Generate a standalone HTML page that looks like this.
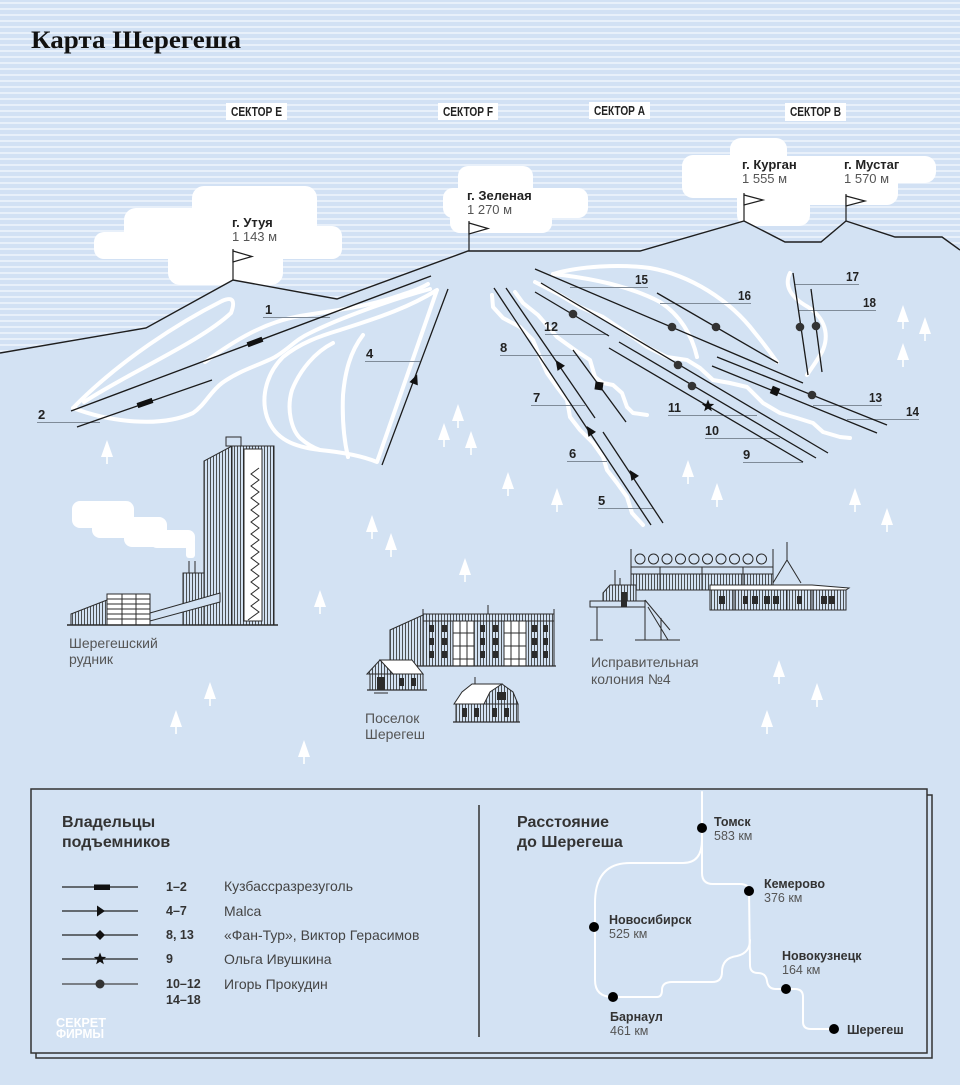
<!DOCTYPE html>
<html><head><meta charset="utf-8"><title>Карта Шерегеша</title>
<style>
html,body{margin:0;padding:0;background:#d3e2f3;}
svg{display:block;}
text{font-family:"Liberation Sans","DejaVu Sans",sans-serif;}
.n{font-size:13px;font-weight:bold;fill:#222;}
.ld{stroke:#7f8b98;stroke-width:1;}
.lift{stroke:#1a1a1a;stroke-width:1.3;fill:none;}
.tr{fill:none;stroke:#fff;stroke-width:4;stroke-linecap:round;stroke-linejoin:round;}
.bk{stroke:#2b2b2b;stroke-width:1;}
.g{fill:#555;}
</style></head>
<body>
<svg width="960" height="1085" viewBox="0 0 960 1085" xmlns="http://www.w3.org/2000/svg">
<defs>
<pattern id="s" width="10" height="6" patternUnits="userSpaceOnUse"><rect width="10" height="6" fill="#d2e1f4"/><rect y="2" width="10" height="2" fill="#e8f0fa"/></pattern>
<pattern id="h" width="3" height="4" patternUnits="userSpaceOnUse"><rect width="3" height="4" fill="#d3e2f3"/><rect width="0.8" height="4" fill="#2b2b2b"/></pattern>
<symbol id="t" viewBox="-7 0 14 25" width="14" height="25" overflow="visible"><polygon points="0,0 -6,17 6,17" fill="#fff"/><rect x="-0.8" y="16" width="1.6" height="8" fill="#fff"/></symbol>
</defs>

<!-- sky -->
<rect width="960" height="1085" fill="url(#s)"/>

<!-- clouds -->
<g fill="#fff">
<rect x="192" y="186" width="125" height="54" rx="12"/>
<rect x="124" y="208" width="176" height="51" rx="12"/>
<rect x="200" y="226" width="142" height="33" rx="10"/>
<rect x="94" y="232" width="86" height="27" rx="10"/>
<rect x="168" y="238" width="115" height="47" rx="12"/>

<rect x="458" y="166" width="75" height="67" rx="10"/>
<rect x="443" y="188" width="145" height="30" rx="10"/>
<rect x="450" y="195" width="102" height="38" rx="10"/>

<rect x="682" y="155" width="108" height="43" rx="11"/>
<rect x="730" y="138" width="57" height="40" rx="11"/>
<rect x="737" y="165" width="73" height="61" rx="11"/>
<rect x="682" y="156" width="254" height="27" rx="11"/>
<rect x="790" y="160" width="108" height="45" rx="11"/>
</g>

<!-- title -->
<text x="31" y="48" font-weight="bold" font-size="25" fill="#111" textLength="210" lengthAdjust="spacingAndGlyphs" style="font-family:'Liberation Serif',serif">Карта Шерегеша</text>

<!-- sector labels -->
<g>
<rect x="226" y="103" width="61" height="17" fill="#fff"/>
<rect x="438" y="103" width="60" height="17" fill="#fff"/>
<rect x="589" y="102" width="61" height="17" fill="#fff"/>
<rect x="785" y="103" width="61" height="18" fill="#fff"/>
<text x="231" y="116" font-size="13" font-weight="bold" fill="#222" textLength="51" lengthAdjust="spacingAndGlyphs">СЕКТОР E</text>
<text x="443" y="116" font-size="13" font-weight="bold" fill="#222" textLength="50" lengthAdjust="spacingAndGlyphs">СЕКТОР F</text>
<text x="594" y="115" font-size="13" font-weight="bold" fill="#222" textLength="51" lengthAdjust="spacingAndGlyphs">СЕКТОР A</text>
<text x="790" y="116" font-size="13" font-weight="bold" fill="#222" textLength="51" lengthAdjust="spacingAndGlyphs">СЕКТОР B</text>
</g>

<!-- peak labels -->
<g font-size="13">
<text x="232" y="227" font-weight="bold" fill="#222">г. Утуя</text>
<text x="232" y="241" class="g">1 143 м</text>
<text x="467" y="200" font-weight="bold" fill="#222">г. Зеленая</text>
<text x="467" y="214" class="g">1 270 м</text>
<text x="742" y="169" font-weight="bold" fill="#222">г. Курган</text>
<text x="742" y="183" class="g">1 555 м</text>
<text x="844" y="169" font-weight="bold" fill="#222">г. Мустаг</text>
<text x="844" y="183" class="g">1 570 м</text>
</g>

<!-- ground -->
<polygon points="0,353 146,328 233,280 337,299 468,251 640,251 744,221 785,242 821,242 846,221 895,237 942,237 960,250 960,1085 0,1085" fill="#d3e2f3"/>
<polyline points="0,353 146,328 233,280 337,299 468,251 640,251 744,221 785,242 821,242 846,221 895,237 942,237 960,250" fill="none" stroke="#1e1e1e" stroke-width="1.4"/>

<!-- flags -->
<g stroke="#1e1e1e" stroke-width="1.2" fill="#fff">
<line x1="233" y1="249" x2="233" y2="280"/><polygon points="233,251 252,256.5 233,262"/>
<line x1="469" y1="221" x2="469" y2="251"/><polygon points="469,223 488,228.5 469,234"/>
<line x1="744" y1="193" x2="744" y2="221"/><polygon points="744,195 763,200 744,205"/>
<line x1="846" y1="194" x2="846" y2="221"/><polygon points="846,196 865,201 846,206"/>
</g>

<!-- trails left -->
<g class="tr">
<path d="M73,408 C120,360 180,322 222,301 Q238,294 231,313 C200,342 130,372 84,402"/>
<path d="M73,408 C110,422 160,428 193,413 C205,405 210,392 222,383 C240,370 260,365 275,357 C290,348 295,340 310,333 C340,318 390,300 430,289"/>
<path d="M205,362 C235,340 265,322 300,316 C330,311 360,308 392,298 C410,292 420,289 428,284"/>
<path d="M437,290 L377,462 C360,455 340,452 320,450 C295,447 275,440 267,417 C260,395 268,372 283,357 C300,343 320,336 340,330 C370,320 405,310 437,290"/>
<path d="M363,335 C350,352 345,372 343,395 C342,420 344,440 348,457"/>
<path d="M333,343 C315,352 300,370 292,390 C286,410 292,430 300,438 C308,445 314,448 320,450"/>
</g>

<!-- trails center -->
<g class="tr">
<polyline points="492,295 493,307 503,318 520,327 533,340 540,357 547,373 557,387 567,400 570,417 580,430 593,443 603,457 607,470 617,483 627,497 632,513 643,525"/>
<polyline points="515,292 523,303 538,315 557,337 575,350 590,360 595,377 603,383 613,385 622,393 627,407 633,413 647,415"/>
<polyline points="535,282 560,295 580,307 603,317 627,333 647,347 667,357 687,360 700,368 713,380 730,383 747,387 763,403 780,413 797,418 813,423 823,432 840,437 850,438"/>
<path d="M553,274 C580,266 620,264 650,268 C690,275 730,300 755,333 C765,345 772,355 777,362"/>
<path d="M553,274 C590,278 630,286 660,302 C680,315 692,335 697,357"/>
<path d="M790,273 C784,285 790,297 808,307 C825,318 830,335 822,352 C815,364 810,370 807,375"/>
</g>

<!-- leaders -->
<g class="ld">
<line x1="263" y1="317.5" x2="330" y2="317.5"/>
<line x1="37" y1="422.5" x2="100" y2="422.5"/>
<line x1="365" y1="361.5" x2="420" y2="361.5"/>
<line x1="500" y1="355.5" x2="577" y2="355.5"/>
<line x1="531" y1="405.5" x2="585" y2="405.5"/>
<line x1="567" y1="461.5" x2="607" y2="461.5"/>
<line x1="598" y1="508.5" x2="653" y2="508.5"/>
<line x1="545" y1="334.5" x2="608" y2="334.5"/>
<line x1="668" y1="415.5" x2="757" y2="415.5"/>
<line x1="705" y1="438.5" x2="780" y2="438.5"/>
<line x1="743" y1="462.5" x2="803" y2="462.5"/>
<line x1="570" y1="287.5" x2="648" y2="287.5"/>
<line x1="660" y1="303.5" x2="751" y2="303.5"/>
<line x1="795" y1="284.5" x2="859" y2="284.5"/>
<line x1="798" y1="310.5" x2="876" y2="310.5"/>
<line x1="813" y1="405.5" x2="882" y2="405.5"/>
<line x1="847" y1="419.5" x2="919" y2="419.5"/>
</g>

<!-- lifts -->
<g class="lift">
<line x1="71" y1="411" x2="431" y2="276"/>
<line x1="77" y1="427" x2="212" y2="380"/>
<line x1="382" y1="465" x2="448" y2="289"/>
<line x1="494" y1="288" x2="651" y2="525"/>
<line x1="506" y1="288" x2="595" y2="418"/>
<line x1="573" y1="350" x2="626" y2="422"/>
<line x1="603" y1="432" x2="663" y2="523"/>
<line x1="535" y1="292" x2="609" y2="336"/>
<line x1="535" y1="269" x2="803" y2="383"/>
<line x1="657" y1="293" x2="778" y2="363"/>
<line x1="541" y1="283" x2="828" y2="453"/>
<line x1="619" y1="342" x2="816" y2="458"/>
<line x1="609" y1="348" x2="803" y2="462"/>
<line x1="712" y1="366" x2="877" y2="433"/>
<line x1="717" y1="357" x2="887" y2="425"/>
<line x1="793" y1="273" x2="808" y2="375"/>
<line x1="811" y1="289" x2="822" y2="372"/>
</g>

<!-- lift markers -->
<g fill="#111">
<rect x="-8" y="-2.6" width="16" height="5.2" transform="translate(255,342) rotate(-20.6)"/>
<rect x="-8" y="-2.6" width="16" height="5.2" transform="translate(145,403) rotate(-19.2)"/>
<polygon points="0,-6 4.5,4 -4.5,4" transform="translate(415,380) rotate(20.6)"/>
<polygon points="0,-6 4.5,4 -4.5,4" transform="translate(590,431) rotate(-33.5)"/>
<polygon points="0,-6 4.5,4 -4.5,4" transform="translate(559,365) rotate(-34.4)"/>
<polygon points="0,-6 4.5,4 -4.5,4" transform="translate(633,475) rotate(-33.4)"/>
<rect x="-4" y="-4" width="8" height="8" transform="translate(599,386) rotate(8)"/>
<rect x="-4" y="-4" width="8" height="8" transform="translate(775,391) rotate(23)"/>
<path transform="translate(708,406)" d="M0,-6.5 L1.65,-2.27 L6.18,-2.01 L2.66,0.87 L3.82,5.26 L0,2.8 L-3.82,5.26 L-2.66,0.87 L-6.18,-2.01 L-1.65,-2.27 Z"/>
</g>
<g fill="#333">
<circle cx="573" cy="314" r="4.3"/>
<circle cx="672" cy="327" r="4.3"/>
<circle cx="716" cy="327" r="4.3"/>
<circle cx="678" cy="365" r="4.3"/>
<circle cx="692" cy="386" r="4.3"/>
<circle cx="812" cy="395" r="4.3"/>
<circle cx="800" cy="327" r="4.3"/>
<circle cx="816" cy="326" r="4.3"/>
</g>

<!-- lift numbers -->
<g class="n">
<text x="265" y="314">1</text>
<text x="38" y="419">2</text>
<text x="366" y="358">4</text>
<text x="500" y="352">8</text>
<text x="533" y="402">7</text>
<text x="569" y="458">6</text>
<text x="598" y="505">5</text>
<text x="544" y="331" textLength="14" lengthAdjust="spacingAndGlyphs">12</text>
<text x="668" y="412" textLength="13" lengthAdjust="spacingAndGlyphs">11</text>
<text x="705" y="435" textLength="14" lengthAdjust="spacingAndGlyphs">10</text>
<text x="743" y="459">9</text>
<text x="635" y="284" textLength="13" lengthAdjust="spacingAndGlyphs">15</text>
<text x="738" y="300" textLength="13" lengthAdjust="spacingAndGlyphs">16</text>
<text x="846" y="281" textLength="13" lengthAdjust="spacingAndGlyphs">17</text>
<text x="863" y="307" textLength="13" lengthAdjust="spacingAndGlyphs">18</text>
<text x="869" y="402" textLength="13" lengthAdjust="spacingAndGlyphs">13</text>
<text x="906" y="416" textLength="13" lengthAdjust="spacingAndGlyphs">14</text>
</g>

<!-- trees -->
<g>
<use href="#t" x="100" y="440"/>
<use href="#t" x="451" y="404"/>
<use href="#t" x="437" y="423"/>
<use href="#t" x="464" y="431"/>
<use href="#t" x="501" y="472"/>
<use href="#t" x="550" y="488"/>
<use href="#t" x="365" y="515"/>
<use href="#t" x="384" y="533"/>
<use href="#t" x="458" y="558"/>
<use href="#t" x="313" y="590"/>
<use href="#t" x="896" y="305"/>
<use href="#t" x="918" y="317"/>
<use href="#t" x="896" y="343"/>
<use href="#t" x="681" y="460"/>
<use href="#t" x="710" y="483"/>
<use href="#t" x="848" y="488"/>
<use href="#t" x="880" y="508"/>
<use href="#t" x="203" y="682"/>
<use href="#t" x="169" y="710"/>
<use href="#t" x="297" y="740"/>
<use href="#t" x="772" y="660"/>
<use href="#t" x="810" y="683"/>
<use href="#t" x="760" y="710"/>
</g>

<!-- MINE -->
<g fill="#fff">
<rect x="72" y="501" width="62" height="27" rx="8"/>
<rect x="92" y="512" width="42" height="26" rx="8"/>
<rect x="124" y="517" width="43" height="30" rx="8"/>
<rect x="150" y="530" width="45" height="18" rx="7"/>
<rect x="186" y="540" width="9" height="18" rx="3"/>
</g>
<g class="bk">
<polygon points="204,625 204,461 232,446 274,446 274,625" fill="url(#h)"/>
<rect x="244" y="449" width="18" height="172" fill="#fff"/>
<line x1="232" y1="446" x2="232" y2="625"/>
<rect x="226" y="437" width="15" height="9" fill="#d3e2f3"/>
<polyline fill="none" points="259,468 251,474 259,480 251,486 259,492 251,498 259,504 251,510 259,516 251,522 259,528 251,534 259,540 251,546 259,552 251,558 259,564 251,570 259,576 251,582 259,588 251,594 259,600 251,606 259,612 248,620"/>
<rect x="183" y="573" width="21" height="52" fill="url(#h)"/>
<line x1="189" y1="561" x2="189" y2="573"/><line x1="195" y1="561" x2="195" y2="573"/>
<polygon points="150,613 220,593 220,602 150,621" fill="#d3e2f3"/>
<polygon points="71,625 71,614 107,600 107,625" fill="url(#h)"/>
<rect x="107" y="594" width="43" height="31" fill="#fff"/>
<line x1="107" y1="599" x2="150" y2="599"/><line x1="107" y1="604" x2="150" y2="604"/>
<line x1="107" y1="609" x2="150" y2="609"/><line x1="107" y1="614" x2="150" y2="614"/>
<line x1="107" y1="619" x2="150" y2="619"/>
<line x1="122" y1="594" x2="122" y2="625"/><line x1="136" y1="594" x2="136" y2="625"/>
<line x1="67" y1="625" x2="278" y2="625" stroke-width="1.5"/>
</g>
<text x="69" y="648" font-size="14" class="g">Шерегешский</text>
<text x="69" y="664" font-size="14" class="g">рудник</text>

<!-- VILLAGE -->
<g class="bk">
<polygon points="390,666 390,630 423,615 423,666" fill="url(#h)"/>
<rect x="423" y="614" width="131" height="52" fill="url(#h)"/>
<line x1="423" y1="621" x2="554" y2="621"/>
<line x1="423" y1="609" x2="423" y2="615"/><line x1="488" y1="605" x2="488" y2="614"/><line x1="554" y1="609" x2="554" y2="614"/>
<rect x="453" y="621" width="21" height="45" fill="#fff"/>
<rect x="504" y="621" width="22" height="45" fill="#fff"/>
<line x1="453" y1="633" x2="474" y2="633"/><line x1="453" y1="646" x2="474" y2="646"/><line x1="453" y1="659" x2="474" y2="659"/>
<line x1="504" y1="633" x2="526" y2="633"/><line x1="504" y1="646" x2="526" y2="646"/><line x1="504" y1="659" x2="526" y2="659"/>
<line x1="460" y1="621" x2="460" y2="666"/><line x1="467" y1="621" x2="467" y2="666"/>
<line x1="511" y1="621" x2="511" y2="666"/><line x1="519" y1="621" x2="519" y2="666"/>
<line x1="388" y1="666" x2="556" y2="666" stroke-width="1.3"/>
</g>
<g fill="#2b2b2b">
<rect x="429" y="625" width="5" height="7"/><rect x="442" y="625" width="5" height="7"/><rect x="480" y="625" width="5" height="7"/><rect x="493" y="625" width="5" height="7"/><rect x="532" y="625" width="5" height="7"/><rect x="543" y="625" width="5" height="7"/>
<rect x="429" y="638" width="5" height="7"/><rect x="442" y="638" width="5" height="7"/><rect x="480" y="638" width="5" height="7"/><rect x="493" y="638" width="5" height="7"/><rect x="532" y="638" width="5" height="7"/><rect x="543" y="638" width="5" height="7"/>
<rect x="429" y="651" width="5" height="7"/><rect x="442" y="651" width="5" height="7"/><rect x="480" y="651" width="5" height="7"/><rect x="493" y="651" width="5" height="7"/><rect x="532" y="651" width="5" height="7"/><rect x="543" y="651" width="5" height="7"/>
</g>
<g class="bk">
<rect x="370" y="674" width="53" height="16" fill="url(#h)"/>
<polygon points="380,660 412,660 423,674 393,674" fill="#fff"/>
<polygon points="367,674 380,660 393,674" fill="url(#h)"/>
<line x1="367" y1="690" x2="427" y2="690" stroke-width="1.3"/>
<line x1="374" y1="693" x2="388" y2="693"/>
</g>
<g fill="#2b2b2b"><rect x="377" y="677" width="8" height="13"/><rect x="399" y="678" width="5" height="8"/><rect x="411" y="678" width="5" height="8"/></g>
<g class="bk">
<rect x="456" y="704" width="62" height="18" fill="url(#h)"/>
<polygon points="454,704 462,692 472,684 502,684 488,704" fill="#fff"/>
<polygon points="484,704 490,692 502,684 513,692 518,704" fill="url(#h)"/>
<line x1="475" y1="677" x2="475" y2="684"/>
<line x1="453" y1="722" x2="520" y2="722" stroke-width="1.3"/>
</g>
<g fill="#2b2b2b"><rect x="462" y="708" width="5" height="9"/><rect x="474" y="708" width="5" height="9"/><rect x="492" y="708" width="5" height="9"/><rect x="504" y="708" width="5" height="9"/><rect x="497" y="692" width="9" height="8"/></g>
<text x="365" y="723" font-size="14" class="g">Поселок</text>
<text x="365" y="739" font-size="14" class="g">Шерегеш</text>

<!-- COLONY -->
<g class="bk" fill="none">
<line x1="631" y1="549" x2="631" y2="590"/><line x1="773" y1="549" x2="773" y2="590"/>
<circle cx="640" cy="559" r="5"/><circle cx="653.5" cy="559" r="5"/><circle cx="667" cy="559" r="5"/><circle cx="680.5" cy="559" r="5"/><circle cx="694" cy="559" r="5"/><circle cx="707.5" cy="559" r="5"/><circle cx="721" cy="559" r="5"/><circle cx="734.5" cy="559" r="5"/><circle cx="748" cy="559" r="5"/><circle cx="761.5" cy="559" r="5"/>
<rect x="631" y="574" width="142" height="16" fill="url(#h)"/>
<line x1="631" y1="567" x2="773" y2="567"/>
<line x1="660" y1="567" x2="660" y2="590"/><line x1="702" y1="567" x2="702" y2="590"/><line x1="743" y1="567" x2="743" y2="590"/>
<polyline points="773,583 787,560 801,583"/><line x1="787" y1="542" x2="787" y2="560"/>
<rect x="710" y="590" width="136" height="20" fill="url(#h)"/>
<polygon points="710,585 812,585 849,588 846,590 710,590" fill="#fff"/>
<line x1="734" y1="590" x2="734" y2="610"/><line x1="787" y1="590" x2="787" y2="610"/><line x1="812" y1="590" x2="812" y2="610"/>
<polygon points="603,607 603,593 610,585 636,585 636,607" fill="url(#h)"/>
<line x1="615" y1="570" x2="615" y2="585"/><line x1="620" y1="578" x2="620" y2="585"/>
<rect x="590" y="601" width="55" height="6" fill="#d3e2f3"/>
<line x1="597" y1="607" x2="597" y2="640"/><line x1="645" y1="600" x2="645" y2="640"/>
<line x1="590" y1="640" x2="603" y2="640"/><line x1="635" y1="640" x2="680" y2="640"/>
<line x1="645" y1="600" x2="670" y2="630"/><line x1="648" y1="607" x2="668" y2="640"/>
<line x1="661" y1="618" x2="661" y2="640"/>
</g>
<g fill="#2b2b2b">
<rect x="621" y="592" width="6" height="15"/>
<rect x="719" y="596" width="6" height="8"/><rect x="743" y="596" width="5" height="8"/><rect x="752" y="596" width="6" height="8"/><rect x="764" y="596" width="6" height="8"/><rect x="773" y="596" width="6" height="8"/><rect x="797" y="596" width="5" height="8"/><rect x="821" y="596" width="6" height="8"/><rect x="829" y="596" width="6" height="8"/>
</g>
<text x="591" y="667" font-size="14" class="g">Исправительная</text>
<text x="591" y="684" font-size="14" class="g">колония №4</text>

<!-- LEGEND BOX -->
<rect x="36" y="795" width="896" height="263" fill="#d3e2f3" stroke="#333" stroke-width="1.5"/>
<rect x="31" y="789" width="896" height="264" fill="#d3e2f3" stroke="#333" stroke-width="1.5"/>
<line x1="479" y1="805" x2="479" y2="1037" stroke="#333" stroke-width="1.5"/>

<text x="62" y="827" font-size="16" font-weight="bold" fill="#333">Владельцы</text>
<text x="62" y="847" font-size="16" font-weight="bold" fill="#333">подъемников</text>

<g stroke="#222" stroke-width="1.3">
<line x1="62" y1="887" x2="138" y2="887"/>
<line x1="62" y1="911" x2="138" y2="911"/>
<line x1="62" y1="935" x2="138" y2="935"/>
<line x1="62" y1="959" x2="138" y2="959"/>
<line x1="62" y1="984" x2="138" y2="984" stroke="#444"/>
</g>
<rect x="94" y="884.5" width="16" height="5.5" fill="#111"/>
<polygon points="97,905.5 105,911 97,916.5" fill="#111"/>
<polygon points="100,930 105,935 100,940 95,935" fill="#111"/>
<path transform="translate(100,959)" d="M0,-6.5 L1.65,-2.27 L6.18,-2.01 L2.66,0.87 L3.82,5.26 L0,2.8 L-3.82,5.26 L-2.66,0.87 L-6.18,-2.01 L-1.65,-2.27 Z" fill="#111"/>
<circle cx="100" cy="984" r="4.5" fill="#333"/>

<g font-size="12.5" font-weight="bold" fill="#333">
<text x="166" y="891">1–2</text>
<text x="166" y="915">4–7</text>
<text x="166" y="939">8, 13</text>
<text x="166" y="963">9</text>
<text x="166" y="988">10–12</text>
<text x="166" y="1004">14–18</text>
</g>
<g font-size="14" fill="#444">
<text x="224" y="891">Кузбассразрезуголь</text>
<text x="224" y="916">Malca</text>
<text x="224" y="940">«Фан-Тур», Виктор Герасимов</text>
<text x="224" y="964">Ольга Ивушкина</text>
<text x="224" y="989">Игорь Прокудин</text>
</g>
<g font-weight="bold" fill="#fff" font-size="12.5">
<text x="56" y="1027" textLength="50" lengthAdjust="spacingAndGlyphs">СЕКРЕТ</text>
<text x="56" y="1038" textLength="48" lengthAdjust="spacingAndGlyphs">ФИРМЫ</text>
</g>

<!-- DISTANCE -->
<text x="517" y="827" font-size="16" font-weight="bold" fill="#333">Расстояние</text>
<text x="517" y="847" font-size="16" font-weight="bold" fill="#333">до Шерегеша</text>
<g fill="none" stroke="#fff" stroke-width="2" stroke-linecap="round">
<path d="M702,792 L702,873 Q702,884 713,884 L740,884 Q749,884 749,891"/>
<path d="M702,840 Q702,863 683,863 L630,863 Q595,863 595,903 L595,980 Q595,997 613,997"/>
<path d="M613,997 L657,997 Q662,997 662,990 Q662,982 672,982 L712,982 Q722,982 722,972 Q722,958 737,956 Q750,953 750,940"/>
<path d="M749,891 L750,965 Q750,973 758,973 Q766,973 767,981 Q768,989 776,989 L786,989"/>
<path d="M786,989 L795,989 Q803,989 803,997 L803,1022 Q803,1029 811,1029 L834,1029"/>
</g>
<g fill="#000">
<circle cx="702" cy="828" r="5"/>
<circle cx="749" cy="891" r="5"/>
<circle cx="594" cy="927" r="5"/>
<circle cx="613" cy="997" r="5"/>
<circle cx="786" cy="989" r="5"/>
<circle cx="834" cy="1029" r="5"/>
</g>
<g font-size="12.5">
<text x="714" y="826" font-weight="bold" fill="#333">Томск</text>
<text x="714" y="840" class="g">583 км</text>
<text x="764" y="888" font-weight="bold" fill="#333">Кемерово</text>
<text x="764" y="902" class="g">376 км</text>
<text x="609" y="924" font-weight="bold" fill="#333">Новосибирск</text>
<text x="609" y="938" class="g">525 км</text>
<text x="782" y="960" font-weight="bold" fill="#333">Новокузнецк</text>
<text x="782" y="974" class="g">164 км</text>
<text x="610" y="1021" font-weight="bold" fill="#333">Барнаул</text>
<text x="610" y="1035" class="g">461 км</text>
<text x="847" y="1034" font-weight="bold" fill="#333">Шерегеш</text>
</g>
</svg>
</body></html>
